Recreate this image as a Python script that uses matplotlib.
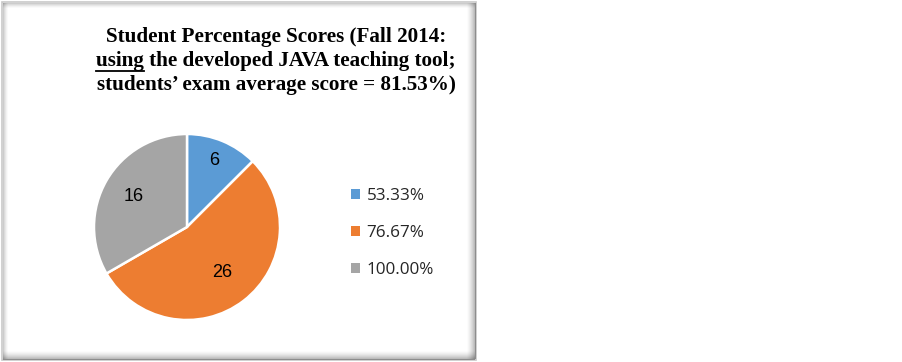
import matplotlib
matplotlib.use("Agg")
import matplotlib.pyplot as plt
from matplotlib.patches import Rectangle
import numpy as np

# Data
categories = ["53.33%", "76.67%", "100.00%"]
counts = [6, 26, 16]
colors = ["#5B9BD5", "#ED7D31", "#A5A5A5"]
title_lines = [
    "Student Percentage Scores (Fall 2014:",
    "using the developed JAVA teaching tool;",
    "students\u2019 exam average score = 81.53%)",
]

W, H = 903, 362
fig = plt.figure(figsize=(W / 100, H / 100), dpi=100)
fig.patch.set_facecolor("white")

def fx(px):
    return px / W

def fy(py):
    return 1 - py / H

# Framed panel with soft inner shadow
x0, x1, y0, y1 = 2, 476, 2, 360
fig.patches.append(Rectangle((fx(x0), fy(y1)), fx(x1 - x0), (y1 - y0) / H,
                             transform=fig.transFigure, facecolor="white",
                             edgecolor="#C8C8C8", linewidth=1.2, zorder=-2))
for i in range(9):
    a = 0.32 * (1 - i / 9) ** 1.5
    # right and bottom shadow (wider)
    fig.patches.append(Rectangle((fx(x1 - 1 - i), fy(y1 - 1)), fx(1), (y1 - y0 - 2) / H,
                                 transform=fig.transFigure, facecolor="black",
                                 alpha=a, linewidth=0, zorder=-1))
    fig.patches.append(Rectangle((fx(x0 + 1), fy(y1 - 1 - i) - 1 / H), fx(x1 - x0 - 2), 1 / H,
                                 transform=fig.transFigure, facecolor="black",
                                 alpha=a, linewidth=0, zorder=-1))
for i in range(5):
    a = 0.2 * (1 - i / 5) ** 1.5
    fig.patches.append(Rectangle((fx(x0 + 1 + i), fy(y1 - 1)), fx(1), (y1 - y0 - 2) / H,
                                 transform=fig.transFigure, facecolor="black",
                                 alpha=a, linewidth=0, zorder=-1))
    fig.patches.append(Rectangle((fx(x0 + 1), fy(y0 + 2 + i)), fx(x1 - x0 - 2), 1 / H,
                                 transform=fig.transFigure, facecolor="black",
                                 alpha=a, linewidth=0, zorder=-1))

# Pie
cx, cy, R = 187, 227, 93
half = 100
ax = fig.add_axes([fx(cx - half), fy(cy + half), fx(2 * half), 2 * half / H])
ax.set_zorder(2)
ax.set_facecolor("none")
wedges, texts = ax.pie(counts, colors=colors, startangle=90, counterclock=False,
                       labels=[str(c) for c in counts], labeldistance=0.7,
                       wedgeprops=dict(edgecolor="white", linewidth=1.8),
                       textprops=dict(fontsize=13, family="Liberation Sans",
                                      color="black", ha="center", va="center"))
lim = half / R
ax.set_xlim(-lim, lim)
ax.set_ylim(-lim, lim)
ax.set_aspect("equal")
ax.axis("off")

# Label radii (best-fit placement)
radii = [0.77, 0.62, 0.66]
for w, t, r in zip(wedges, texts, radii):
    ang = np.deg2rad((w.theta1 + w.theta2) / 2)
    t.set_position((r * np.cos(ang), r * np.sin(ang)))

# Legend
leg = fig.legend(wedges, categories, loc="center left",
                 bbox_to_anchor=(fx(336), fy(233)), frameon=False,
                 prop=dict(family="Open Sans", size=12.3),
                 handlelength=0.5, handleheight=0.5, handletextpad=0.4,
                 labelspacing=1.22)
leg.set_zorder(3)
for p in leg.get_patches():
    p.set_edgecolor("none")
for t in leg.get_texts():
    t.set_color("#262626")

# Title
tx = 276
ys = [37, 61, 85]
title_font = dict(family="Liberation Serif", weight="bold", size=15.2, color="black")
for line, yy in zip(title_lines, ys):
    fig.text(fx(tx), fy(yy), line, ha="center", va="center", **title_font)

# Underline the first word of the second line
fig.canvas.draw()
r = fig.canvas.get_renderer()
full = fig.text(fx(tx), fy(ys[1]), title_lines[1], ha="center", va="center",
                alpha=0, **title_font)
word = fig.text(0, 0, "using", alpha=0, **title_font)
bb_full = full.get_window_extent(r)
bb_word = word.get_window_extent(r)
ux0 = bb_full.x0
ux1 = bb_full.x0 + bb_word.width
uy = fy(ys[1] + 10) * H
fig.add_artist(plt.Line2D([ux0 / W, ux1 / W], [uy / H, uy / H],
                          transform=fig.transFigure, color="black", linewidth=1.3))

fig.savefig("out.png", dpi=100, facecolor="white")
